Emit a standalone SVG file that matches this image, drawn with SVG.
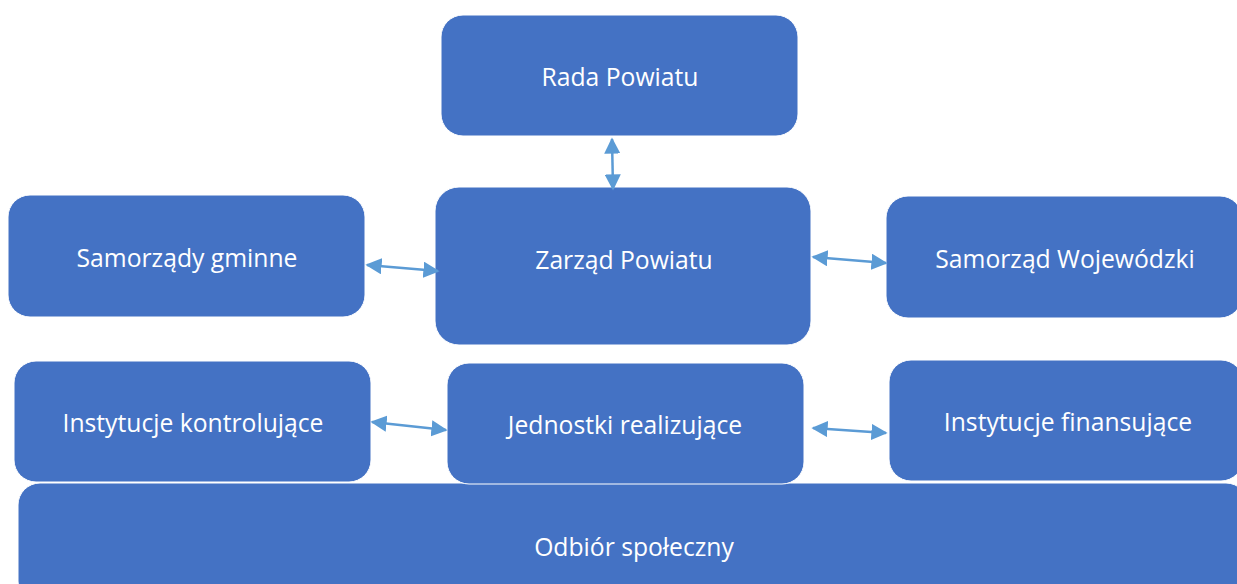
<svg xmlns="http://www.w3.org/2000/svg" width="1237" height="584" viewBox="0 0 1237 584">
<defs>
<style>
.box{fill:#4472C4;stroke:#ffffff;stroke-width:1}
.lbl{fill:#ffffff;font-family:"Open Sans","Liberation Sans",sans-serif;font-size:24.7px;text-anchor:middle;dominant-baseline:central}
.con{stroke:#5B9BD5;stroke-width:2.5;fill:none;marker-start:url(#ah);marker-end:url(#ah)}
</style>
<marker id="ah" viewBox="0 0 10 10" refX="9" refY="5" markerWidth="6.5" markerHeight="6.5" orient="auto-start-reverse">
<path d="M0,0 L10,5 L0,10 z" fill="#5B9BD5"/>
</marker>
</defs>
<rect width="1237" height="584" fill="#ffffff"/>
<g id="odbior"><rect class="box" x="18" y="483" width="1230" height="120" rx="22"/><text class="lbl" x="634" y="546">Odbiór społeczny</text></g>
<g id="rada"><rect class="box" x="441" y="15" width="357" height="121" rx="22"/><text class="lbl" x="620" y="76">Rada Powiatu</text></g>
<g id="gminne"><rect class="box" x="8" y="195" width="357" height="122" rx="22"/><text class="lbl" x="187" y="257">Samorządy gminne</text></g>
<g id="zarzad"><rect class="box" x="435" y="187" width="376" height="158" rx="24"/><text class="lbl" x="624" y="259">Zarząd Powiatu</text></g>
<g id="wojewodzki"><rect class="box" x="886" y="196" width="356" height="122" rx="22"/><text class="lbl" x="1065" y="258">Samorząd Wojewódzki</text></g>
<g id="kontrolujace"><rect class="box" x="14" y="361" width="357" height="121" rx="22"/><text class="lbl" x="193" y="422">Instytucje kontrolujące</text></g>
<g id="jednostki"><rect class="box" x="447" y="363" width="357" height="121" rx="22"/><text class="lbl" x="625" y="424">Jednostki realizujące</text></g>
<g id="finansujace"><rect class="box" x="889" y="360" width="354" height="121" rx="22"/><text class="lbl" x="1068" y="421">Instytucje finansujące</text></g>
<g id="connectors">
<line class="con" x1="612" y1="139" x2="613" y2="189"/>
<line class="con" x1="367" y1="265" x2="438" y2="271"/>
<line class="con" x1="813" y1="257" x2="886" y2="263"/>
<line class="con" x1="372" y1="422" x2="446" y2="430"/>
<line class="con" x1="813" y1="428" x2="886" y2="433"/>
</g>
</svg>
